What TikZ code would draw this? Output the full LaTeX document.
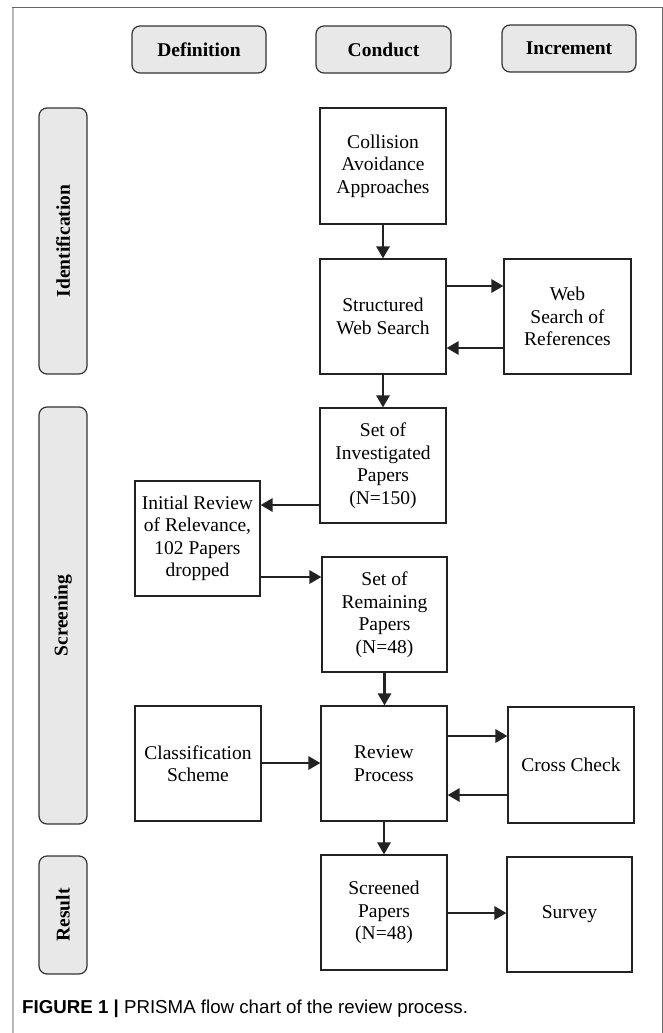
\documentclass[tikz,border=0pt]{standalone}
\usepackage{fontspec}
\setmainfont{Liberation Serif}
\newfontfamily\capfont{Liberation Sans}
\usetikzlibrary{arrows.meta}
\definecolor{hdrfill}{HTML}{E8E8E8}
\definecolor{inkc}{HTML}{222222}
\definecolor{hdrline}{HTML}{333333}
\begin{document}
\begin{tikzpicture}[x=1pt,y=-1pt,
  stagebox/.style={draw=hdrline,fill=hdrfill,line width=1.2pt,rounded corners=8pt,
    inner sep=0pt,font=\fontsize{19.5}{22}\selectfont\bfseries},
  flowbox/.style={draw=inkc,fill=white,line width=1.1pt,inner sep=0pt,align=center,
    minimum width=126pt,minimum height=115pt,font=\fontsize{19.5}{22.5}\selectfont},
  arr/.style={draw=inkc,line width=2.8pt,-{Triangle[length=12pt,width=13pt]}}]
\useasboundingbox (0,0) rectangle (663,1033);
% frame
\draw[color=gray!55,line width=1.6pt] (12.7,1033) -- (12.7,8);
\draw[color=gray!80!black,line width=1pt] (12,8) -- (662,8) -- (662,1033);
% headers
\node[stagebox,minimum width=134pt,minimum height=47pt] (hdef) at (199,49.5) {Definition};
\node[stagebox,minimum width=135pt,minimum height=47pt] (hcon) at (383.5,49.5) {Conduct};
\node[stagebox,minimum width=134pt,minimum height=47pt] (hinc) at (569,48.5) {Increment};
% stage bars
\node[stagebox,rotate=90,minimum width=266pt,minimum height=48pt] (bid) at (63,241) {Identification};
\node[stagebox,rotate=90,minimum width=417pt,minimum height=48pt] (bscr) at (63,615.5) {Screening};
\node[stagebox,rotate=90,minimum width=118pt,minimum height=48pt] (bres) at (63,915) {Result};
% boxes
\node[flowbox,minimum height=116pt] (coll) at (383,166) {Collision\\Avoidance\\Approaches};
\node[flowbox] (struct) at (383,316.5) {Structured\\Web Search};
\node[flowbox,minimum width=127pt] (web) at (567.5,316.5) {Web\\Search of\\References};
\node[flowbox] (inv) at (383,465.5) {Set of\\Investigated\\Papers\\(N=150)};
\node[flowbox,minimum width=125pt] (init) at (197.5,538.5) {Initial Review\\of Relevance,\\102 Papers\\dropped};
\node[flowbox,minimum width=125pt] (rem) at (384.5,614.5) {Set of\\Remaining\\Papers\\(N=48)};
\node[flowbox] (cls) at (198,763.5) {Classification\\Scheme};
\node[flowbox] (rev) at (384,763.5) {Review\\Process};
\node[flowbox,minimum height=116pt] (cross) at (571,765) {Cross Check};
\node[flowbox] (scr) at (384,912.5) {Screened\\Papers\\(N=48)};
\node[flowbox,minimum width=125pt] (surv) at (569.5,914.5) {Survey};
% connectors
\draw[arr] (coll.south) -- (struct.north);
\draw[arr] (struct.east |- 0,286) -- (web.west |- 0,286);
\draw[arr] (web.west |- 0,348) -- (struct.east |- 0,348);
\draw[arr] (struct.south) -- (inv.north);
\draw[arr] (inv.west |- 0,505) -- (init.east |- 0,505);
\draw[arr] (init.east |- 0,577) -- (rem.west |- 0,577);
\draw[arr] (rem.south) -- (rem.south |- rev.north);
\draw[arr] (cls.east |- 0,763) -- (rev.west |- 0,763);
\draw[arr] (rev.east |- 0,736) -- (cross.west |- 0,736);
\draw[arr] (cross.west |- 0,795) -- (rev.east |- 0,795);
\draw[arr] (rev.south) -- (scr.north);
\draw[arr] (scr.east |- 0,913) -- (surv.west |- 0,913);
% caption
\node[anchor=base west,inner sep=0pt,font=\capfont\fontsize{18.7}{21}\selectfont] (cap) at (22,1013)
  {{\bfseries FIGURE 1} {\bfseries|} PRISMA flow chart of the review process.};
\end{tikzpicture}
\end{document}
